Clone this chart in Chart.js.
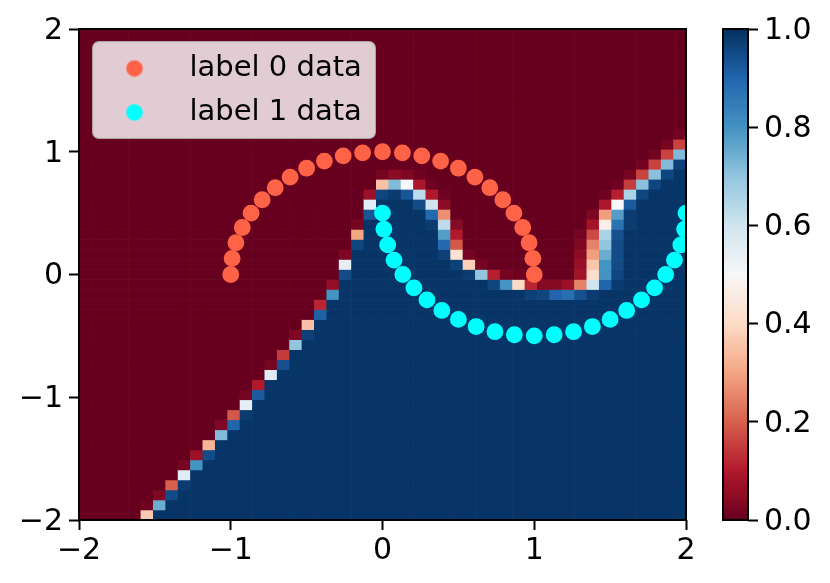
<!DOCTYPE html>
<html>
<head>
<meta charset="utf-8">
<style>
html,body{margin:0;padding:0;background:#fff;overflow:hidden}
#wrap{position:relative;width:830px;height:583px}
canvas{position:absolute;left:0;top:0}
</style>
<script src="https://cdn.jsdelivr.net/npm/chart.js@4/dist/chart.umd.min.js"></script>
</head>
<body>
<div id="wrap">
<canvas id="main" width="830" height="583"></canvas>
<canvas id="bar" width="830" height="583"></canvas>
</div>
<script>
const axisTicks = [-2, -1, 0, 1, 2];
const colorbarTicks = [0, 0.2, 0.4, 0.6, 0.8, 1];
const seriesLabels = ['label 0 data', 'label 1 data'];
const label0X = [1,.991,.966,.924,.866,.793,.707,.609,.5,.383,.259,.131,0,-.131,-.259,-.383,-.5,-.609,-.707,-.793,-.866,-.924,-.966,-.991,-1];
const label0Y = [0,.131,.259,.383,.5,.609,.707,.793,.866,.924,.966,.991,1,.991,.966,.924,.866,.793,.707,.609,.5,.383,.259,.131,0];
const label1X = [0,.009,.034,.076,.134,.207,.293,.391,.5,.617,.741,.869,1,1.131,1.259,1.383,1.5,1.609,1.707,1.793,1.866,1.924,1.966,1.991,2];
const label1Y = [.5,.369,.241,.117,0,-.109,-.207,-.293,-.366,-.424,-.466,-.491,-.5,-.491,-.466,-.424,-.366,-.293,-.207,-.109,0,.117,.241,.369,.5];
const rdbu = ['#67001f','#b2182b','#d6604d','#f4a582','#fddbc7','#f7f7f7','#d1e5f0','#92c5de','#4393c3','#2166ac','#053061'];
const gridCount = 49;
// first listed row of each column; rows below it read as 0.99, rows above its list read as 0
const columnStart = [0,0,0,0,0,0,1,2,3,5,6,8,9,10,12,14,15,17,18,20,22,24,27,30,32,32,32,31,29,26,25,24,23,23,22,22,22,22,22,22,22,22,22,23,29,32,33,34,35];
const columnValues = [
[],[],[],[],[],
[.37,.01],[.75,.03],[.95,.2],[.98,.56,.02],[.8,.07],[.95,.33],[.72,.03],[.9,.19],
[.98,.55,.02],[.92,.1],[.56,.02],[.94,.15],[.7,.03],[.97,.35],[.91,.12],[.8,.06],
[.95,.55,.03],[.96,.3,.02],[.93,.56,.07],[.96,.35,.02],[.98,.72,.05],[.93,.5,.03],
[.95,.63,.09,.01],[.98,.89,.6,.1,.01],[.97,.89,.78,.63,.27,.05,.01],[.97,.42,.19,.1,.04],
[.98,.38,.02],[.99,.7,.02],[.96,.11],[.99,.8,.02],[.99,.4,.01],[.97,.12],[.96,.04],[.9,.04],[.88,.07],
[.94,.25,.08,.065,.05,.035,.02],[.98,.6,.41,.36,.29,.25,.17,.08,.03],
[.99,.9,.8,.8,.75,.7,.66,.47,.29,.09,.01],[.98,.96,.95,.95,.95,.94,.87,.78,.5,.11,.01],
[.98,.98,.92,.66,.15,.02],[.96,.71,.16,.015],[.96,.71,.16,.015],[.96,.72,.16,.02],[.97,.72,.16,.015]
];

const LEGEND_FONT = {family:'"DejaVu Sans"', size:29};
const TICK_FONT = {family:'"DejaVu Sans"', size:30};
function hex(c){return [1,3,5].map(i=>parseInt(c.substr(i,2),16));}
function colorOf(v){
  const p = Math.min(v,1)*10, i = Math.min(Math.floor(p),9), f = p-i;
  const a = hex(rdbu[i]), b = hex(rdbu[i+1]);
  return 'rgb('+a.map((x,k)=>Math.round(x+(b[k]-x)*f)).join(',')+')';
}
function pts(xs,ys){return xs.map((x,i)=>({x,y:ys[i]}));}

const heatData = [], heatColors = [];
const step = 4/gridCount;
for(let c=0;c<gridCount;c++){
  for(let r=0;r<gridCount;r++){
    let v;
    const k = r-columnStart[c];
    if(columnValues[c].length===0) v=0;
    else if(k<0) v=0.99;
    else if(k<columnValues[c].length) v=columnValues[c][k];
    else v=0;
    heatData.push({x:-2+(c+.5)*step, y:[-2+r*step,-2+(r+1)*step]});
    heatColors.push(colorOf(v));
  }
}

function dot(color){
  const cv=document.createElement('canvas');cv.width=18;cv.height=18;
  const g=cv.getContext('2d');g.fillStyle=color;g.beginPath();g.arc(9,9,8.3,0,Math.PI*2);g.fill();
  return cv;
}
const frame = {
  id:'frame',
  afterDraw(ch){
    const a=ch.chartArea,g=ch.ctx;
    g.save();g.strokeStyle='#000';g.lineWidth=2;
    g.strokeRect(a.left,a.top,a.right-a.left,a.bottom-a.top);
    g.restore();
  }
};
function zeroPad(s){s.paddingLeft=s.paddingRight=s.paddingTop=s.paddingBottom=0;}

const main = new Chart(document.getElementById('main'),{
  type:'bar',
  data:{datasets:[
    {type:'scatter',label:seriesLabels[1],data:pts(label1X,label1Y),backgroundColor:'#00ffff',borderWidth:0,pointRadius:8.4,pointStyle:'circle',order:0,clip:0},
    {type:'scatter',label:seriesLabels[0],data:pts(label0X,label0Y),backgroundColor:'#ff6347',borderWidth:0,pointRadius:8.4,pointStyle:'circle',order:1,clip:0},
    {type:'bar',label:'probability',data:heatData,backgroundColor:heatColors,borderWidth:0,grouped:false,barPercentage:1,categoryPercentage:1,order:2,clip:0}
  ]},
  options:{
    responsive:false,animation:false,events:[],
    layout:{padding:{top:29,right:144,left:0,bottom:0}},
    plugins:{
      tooltip:{enabled:false},
      legend:{
        position:'chartArea',align:'start',
        labels:{
          usePointStyle:true,pointStyleWidth:81,boxHeight:16,padding:15,color:'#000',font:LEGEND_FONT,
          generateLabels:()=>[
            {text:seriesLabels[0],pointStyle:dot('#ff6347'),fontColor:'#000',datasetIndex:1,hidden:false},
            {text:seriesLabels[1],pointStyle:dot('#00ffff'),fontColor:'#000',datasetIndex:0,hidden:false}
          ]
        }
      }
    },
    scales:{
      x:{type:'linear',min:-2,max:2,offset:false,
        border:{display:false},
        grid:{offset:false,drawOnChartArea:false,drawTicks:true,tickLength:10,tickColor:'#000',tickWidth:2},
        afterBuildTicks:s=>{s.ticks=axisTicks.map(value=>({value}));},
        afterFit:s=>{s.height=63;zeroPad(s);},
        ticks:{font:TICK_FONT,color:'#000',padding:3,autoSkip:false,maxRotation:0,callback:v=>String(v).replace('-','\u2212')}},
      y:{type:'linear',min:-2,max:2,
        border:{display:false},
        grid:{drawOnChartArea:false,drawTicks:true,tickLength:10,tickColor:'#000',tickWidth:2},
        afterBuildTicks:s=>{s.ticks=axisTicks.map(value=>({value}));},
        afterFit:s=>{s.width=79;zeroPad(s);},
        ticks:{font:TICK_FONT,color:'#000',padding:6,labelOffset:2,autoSkip:false,callback:v=>String(v).replace('-','\u2212')}}
    }
  },
  plugins:[frame]
});
// legend floats above the marks, on its translucent box
main.legend._layers = function(){
  const lg=this;
  return [{z:10,draw(area){
    const g=main.ctx;
    g.save();
    g.beginPath();g.roundRect(93,42,282,96,6);
    g.fillStyle='rgba(255,255,255,0.8)';g.fill();
    g.strokeStyle='rgba(204,204,204,0.8)';g.lineWidth=2;g.stroke();
    g.translate(0,39);
    lg.draw(area);
    g.restore();
  }}];
};
main.update('none');

const colorbarLevels = [], colorbarColors = [];
for(let i=0;i<256;i++){
  colorbarLevels.push({x:'c',y:[i/256,Math.min(1,(i+2)/256)]});
  colorbarColors.push(colorOf((i+.5)/256));
}
new Chart(document.getElementById('bar'),{
  type:'bar',
  data:{labels:['c'],datasets:[{data:colorbarLevels,backgroundColor:colorbarColors,borderWidth:0,barThickness:25,grouped:false,clip:0}]},
  options:{
    responsive:false,animation:false,events:[],
    layout:{padding:{top:29,left:723,right:0,bottom:63}},
    plugins:{legend:{display:false},tooltip:{enabled:false}},
    scales:{
      x:{display:false},
      y:{type:'linear',position:'right',min:0,max:1,
        border:{display:false},
        grid:{drawOnChartArea:false,drawTicks:true,tickLength:10,tickColor:'#000',tickWidth:2},
        afterBuildTicks:s=>{s.ticks=colorbarTicks.map(value=>({value}));},
        afterFit:s=>{s.width=82;zeroPad(s);},
        ticks:{font:TICK_FONT,color:'#000',padding:6,labelOffset:2,autoSkip:false,callback:v=>v.toFixed(1)}}
    }
  },
  plugins:[frame]
});
</script>
</body>
</html>
